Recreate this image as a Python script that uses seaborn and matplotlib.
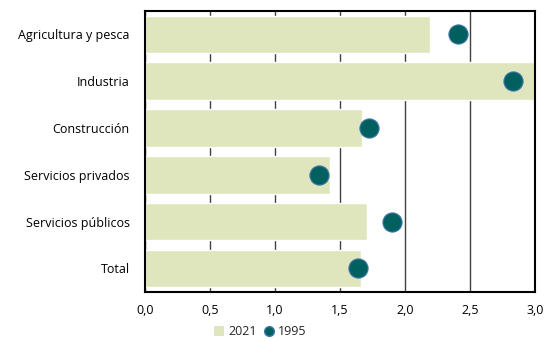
import matplotlib
matplotlib.use("Agg")
import matplotlib.pyplot as plt
import seaborn as sns
import pandas as pd
from matplotlib.lines import Line2D
from matplotlib.patches import Patch
from matplotlib.ticker import FuncFormatter, MultipleLocator

categories = ["Agricultura y pesca", "Industria", "Construcción",
              "Servicios privados", "Servicios públicos", "Total"]
values_2021 = [2.19, 3.05, 1.67, 1.42, 1.71, 1.66]
values_1995 = [2.41, 2.83, 1.72, 1.34, 1.90, 1.64]

df = pd.DataFrame({"cat": categories, "v2021": values_2021, "v1995": values_1995})

sns.set_style("white")
plt.rcParams["font.family"] = ["Open Sans", "DejaVu Sans"]

bar_color = "#dfe6bd"
dot_color = "#00605f"

fig = plt.figure(figsize=(5.6, 3.41), dpi=100)
ax = fig.add_axes([0.259, 0.144, 0.696, 0.824])

sns.barplot(data=df, y="cat", x="v2021", orient="h", color=bar_color,
            width=0.8, ax=ax, zorder=2, saturation=1)
sns.scatterplot(data=df, y="cat", x="v1995", ax=ax, color=dot_color, s=190,
                edgecolor="#3f74a8", linewidth=0.8, zorder=3)

ax.set_xlim(0, 3.0)
ax.set_ylim(5.5, -0.5)
ax.xaxis.set_major_locator(MultipleLocator(0.5))
ax.xaxis.set_major_formatter(FuncFormatter(lambda v, p: f"{v:.1f}".replace(".", ",")))
ax.grid(axis="x", color="#404040", linewidth=1.0, zorder=0)
ax.set_axisbelow(True)
ax.set_xlabel("")
ax.set_ylabel("")
ax.tick_params(axis="both", length=0, labelsize=9, colors="black")
ax.tick_params(axis="x", pad=9)
ax.tick_params(axis="y", pad=11)
for s in ax.spines.values():
    s.set_visible(True)
    s.set_color("black")
    s.set_linewidth(1.5)

handles = [Patch(facecolor=bar_color, edgecolor="none", label="2021"),
           Line2D([0], [0], marker="o", linestyle="none", markerfacecolor=dot_color,
                  markeredgecolor="#3f74a8", markersize=7, label="1995")]
fig.legend(handles=handles, loc="center", bbox_to_anchor=(0.465, 0.027), ncol=2,
           frameon=False, fontsize=9, handlelength=0.8, handleheight=0.8,
           handletextpad=0.3, columnspacing=0.6, borderpad=0)

fig.savefig("out.png", dpi=100)
